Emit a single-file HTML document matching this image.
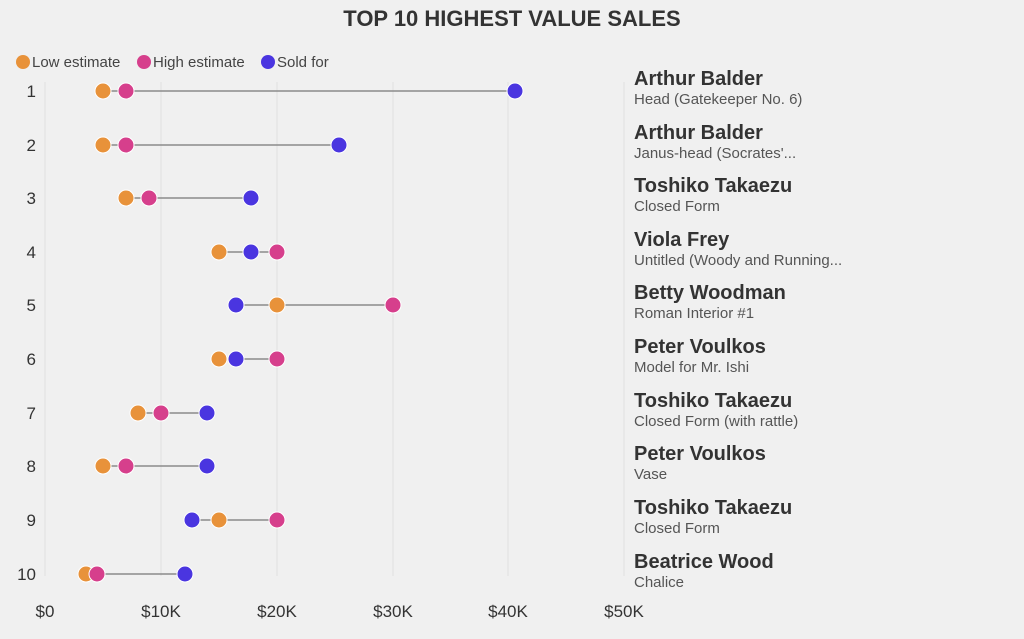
<!DOCTYPE html>
<html><head><style>
body{margin:0;background:#f0f0f0;font-family:"Liberation Sans",sans-serif;}
</style></head><body>
<svg width="1024" height="634" xmlns="http://www.w3.org/2000/svg" font-family="Liberation Sans, sans-serif">
<rect width="1024" height="634" fill="#f0f0f0"/>
<text x="512" y="26" text-anchor="middle" font-size="22" font-weight="bold" fill="#333">TOP 10 HIGHEST VALUE SALES</text>
<g font-size="15" fill="#444">
<circle cx="23" cy="62" r="7" fill="#E8923A"/><text x="32" y="67">Low estimate</text>
<circle cx="144" cy="62" r="7" fill="#D63F8C"/><text x="153" y="67">High estimate</text>
<circle cx="268" cy="62" r="7" fill="#4A35E0"/><text x="277" y="67">Sold for</text>
</g>
<g stroke="#e0e0e0" stroke-width="1">
<line x1="45" y1="82" x2="45" y2="576"/><line x1="161" y1="82" x2="161" y2="576"/><line x1="277" y1="82" x2="277" y2="576"/><line x1="393" y1="82" x2="393" y2="576"/><line x1="508" y1="82" x2="508" y2="576"/><line x1="624" y1="82" x2="624" y2="576"/>
</g>
<g font-size="17" fill="#333" text-anchor="middle">
<text x="45" y="617">$0</text><text x="161" y="617">$10K</text><text x="277" y="617">$20K</text><text x="393" y="617">$30K</text><text x="508" y="617">$40K</text><text x="624" y="617">$50K</text>
</g>
<g font-size="17" fill="#333" text-anchor="end">
<text x="36" y="97">1</text><text x="36" y="151">2</text><text x="36" y="204">3</text><text x="36" y="258">4</text><text x="36" y="311">5</text><text x="36" y="365">6</text><text x="36" y="419">7</text><text x="36" y="472">8</text><text x="36" y="526">9</text><text x="36" y="580">10</text>
</g>
<g stroke="#777" stroke-width="1.2">
<line x1="103" y1="91" x2="515" y2="91"/>
<line x1="103" y1="145" x2="339" y2="145"/>
<line x1="126" y1="198" x2="251" y2="198"/>
<line x1="219" y1="252" x2="277" y2="252"/>
<line x1="236" y1="305" x2="393" y2="305"/>
<line x1="219" y1="359" x2="277" y2="359"/>
<line x1="138" y1="413" x2="207" y2="413"/>
<line x1="103" y1="466" x2="207" y2="466"/>
<line x1="192" y1="520" x2="277" y2="520"/>
<line x1="86" y1="574" x2="185" y2="574"/>
</g>
<g stroke="#fff" stroke-width="1">
<circle cx="103" cy="91" r="8" fill="#E8923A"/><circle cx="126" cy="91" r="8" fill="#D63F8C"/><circle cx="515" cy="91" r="8" fill="#4A35E0"/>
<circle cx="103" cy="145" r="8" fill="#E8923A"/><circle cx="126" cy="145" r="8" fill="#D63F8C"/><circle cx="339" cy="145" r="8" fill="#4A35E0"/>
<circle cx="126" cy="198" r="8" fill="#E8923A"/><circle cx="149" cy="198" r="8" fill="#D63F8C"/><circle cx="251" cy="198" r="8" fill="#4A35E0"/>
<circle cx="219" cy="252" r="8" fill="#E8923A"/><circle cx="277" cy="252" r="8" fill="#D63F8C"/><circle cx="251" cy="252" r="8" fill="#4A35E0"/>
<circle cx="277" cy="305" r="8" fill="#E8923A"/><circle cx="393" cy="305" r="8" fill="#D63F8C"/><circle cx="236" cy="305" r="8" fill="#4A35E0"/>
<circle cx="219" cy="359" r="8" fill="#E8923A"/><circle cx="277" cy="359" r="8" fill="#D63F8C"/><circle cx="236" cy="359" r="8" fill="#4A35E0"/>
<circle cx="138" cy="413" r="8" fill="#E8923A"/><circle cx="161" cy="413" r="8" fill="#D63F8C"/><circle cx="207" cy="413" r="8" fill="#4A35E0"/>
<circle cx="103" cy="466" r="8" fill="#E8923A"/><circle cx="126" cy="466" r="8" fill="#D63F8C"/><circle cx="207" cy="466" r="8" fill="#4A35E0"/>
<circle cx="219" cy="520" r="8" fill="#E8923A"/><circle cx="277" cy="520" r="8" fill="#D63F8C"/><circle cx="192" cy="520" r="8" fill="#4A35E0"/>
<circle cx="86" cy="574" r="8" fill="#E8923A"/><circle cx="97" cy="574" r="8" fill="#D63F8C"/><circle cx="185" cy="574" r="8" fill="#4A35E0"/>
</g>
<g fill="#333">
<g font-size="20" font-weight="bold">
<text x="634" y="85">Arthur Balder</text><text x="634" y="139">Arthur Balder</text><text x="634" y="192">Toshiko Takaezu</text><text x="634" y="246">Viola Frey</text><text x="634" y="299">Betty Woodman</text><text x="634" y="353">Peter Voulkos</text><text x="634" y="407">Toshiko Takaezu</text><text x="634" y="460">Peter Voulkos</text><text x="634" y="514">Toshiko Takaezu</text><text x="634" y="568">Beatrice Wood</text>
</g>
<g font-size="15" fill="#555">
<text x="634" y="104">Head (Gatekeeper No. 6)</text><text x="634" y="158">Janus-head (Socrates'...</text><text x="634" y="211">Closed Form</text><text x="634" y="265">Untitled (Woody and Running...</text><text x="634" y="318">Roman Interior #1</text><text x="634" y="372">Model for Mr. Ishi</text><text x="634" y="426">Closed Form (with rattle)</text><text x="634" y="479">Vase</text><text x="634" y="533">Closed Form</text><text x="634" y="587">Chalice</text>
</g>
</g>
</svg>
</body></html>
